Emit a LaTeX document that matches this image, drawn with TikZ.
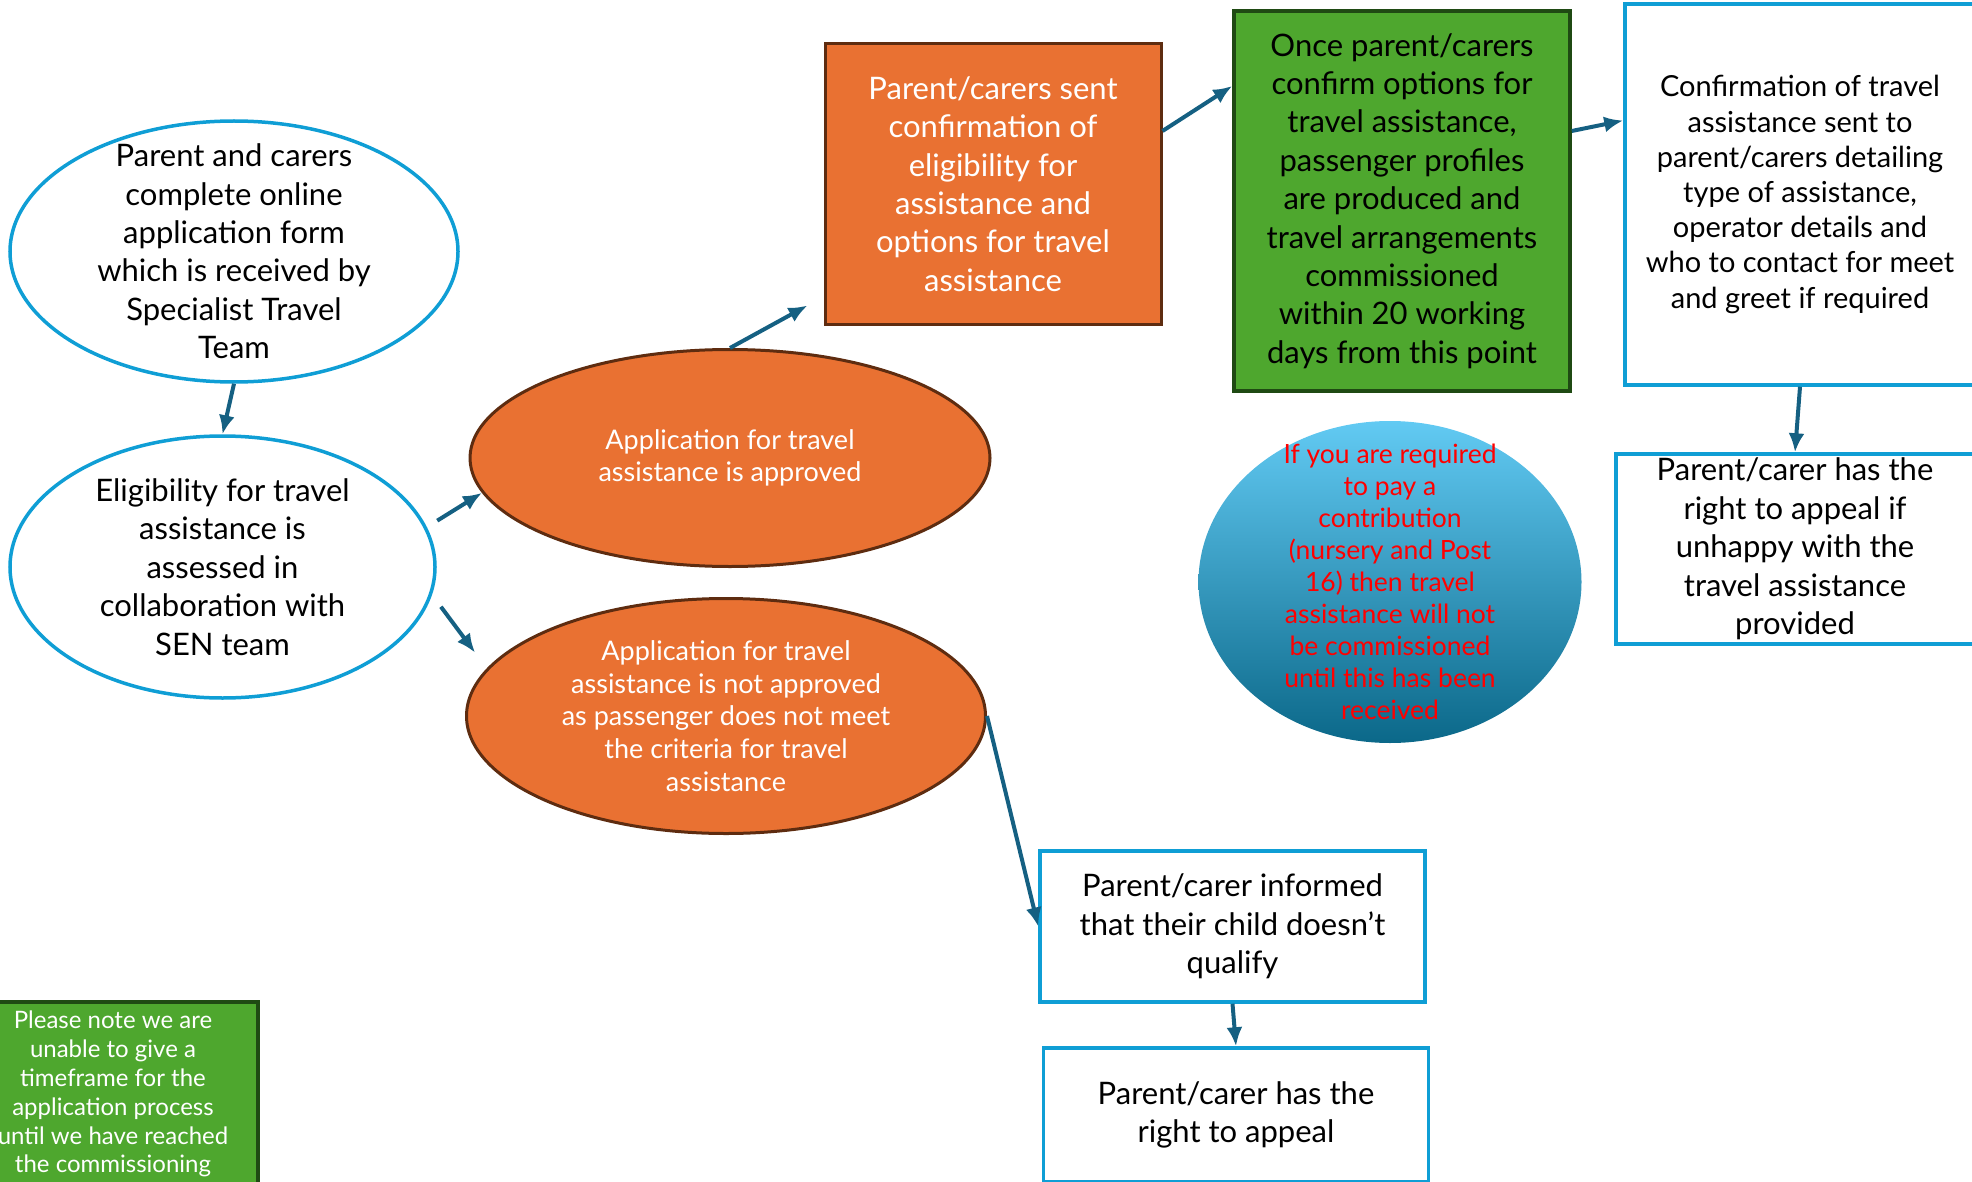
\documentclass[tikz,border=0pt]{standalone}
\usepackage{fontspec}
\setmainfont{Lato}
\usetikzlibrary{shapes.geometric,arrows.meta,positioning}
\definecolor{accblue}{HTML}{0F9ED5}
\definecolor{accorange}{HTML}{E97132}
\definecolor{accbrown}{HTML}{5E2C10}
\definecolor{accgreen}{HTML}{4EA72E}
\definecolor{accdkgreen}{HTML}{1F4A13}
\definecolor{flowcol}{HTML}{156082}
\definecolor{skytop}{HTML}{62CAF3}
\definecolor{skymid}{HTML}{0EA1DB}
\definecolor{skybot}{HTML}{0B6889}
\newcommand{\bigtxt}{\fontsize{31}{38.4}\selectfont}
\newcommand{\midtxt}{\fontsize{29}{35.2}\selectfont}
\newcommand{\ovaltxt}{\fontsize{27}{32.7}\selectfont}
\newcommand{\redtxt}{\fontsize{26.5}{32}\selectfont}
\newcommand{\notetxt}{\fontsize{24}{28.9}\selectfont}
\tikzset{>={Latex[length=19pt,width=16pt]}}
\tikzstyle{flow}=[->,draw=flowcol,line width=4pt]
\tikzstyle{blueoval}=[ellipse,draw=accblue,line width=3.5pt,fill=white]
\tikzstyle{orangeoval}=[ellipse,draw=accbrown,line width=3pt,fill=accorange]
\tikzstyle{ovaltext}=[align=center,inner sep=0pt]
\tikzstyle{bluebox}=[rectangle,draw=accblue,line width=3.5pt,fill=white,align=center,inner sep=0pt,font=\bigtxt]
\tikzstyle{orangebox}=[rectangle,draw=accbrown,line width=3pt,fill=accorange,align=center,inner sep=0pt,font=\bigtxt,text=white]
\tikzstyle{greenbox}=[rectangle,draw=accdkgreen,line width=3.5pt,fill=accgreen,align=center,inner sep=0pt]

\begin{document}
\begin{tikzpicture}[x=1pt,y=-1pt]
  \useasboundingbox (0,0) rectangle (1972,1182);
  % ovals on the left
  \node[blueoval,minimum width=448,minimum height=261] (apply) at (234,251.5) {};
  \node[ovaltext,font=\bigtxt] (applytxt) at (apply) {Parent and carers\\complete online\\application form\\which is received by\\Specialist Travel\\Team};
  \node[blueoval,minimum width=425,minimum height=262] (elig) at (222.5,567) {};
  \node[ovaltext,font=\bigtxt] (eligtxt) at (elig) {Eligibility for travel\\assistance is\\assessed in\\collaboration with\\SEN team};
  \node[orangeoval,minimum width=520,minimum height=217] (appr) at (730,458) {};
  \node[ovaltext,font=\ovaltxt,text=white] (apprtxt) at (appr) {Application for travel\\assistance is approved};
  \node[orangeoval,minimum width=519,minimum height=235] (notappr) at (726,716) {};
  \node[ovaltext,font=\ovaltxt,text=white] (notapprtxt) at (notappr) {Application for travel\\assistance is not approved\\as passenger does not meet\\the criteria for travel\\assistance};
  % boxes along the top
  \node[orangebox,minimum width=336,minimum height=280] (sent) at (993,184) {Parent/carers sent\\confirmation of\\eligibility for\\assistance and\\options for travel\\assistance};
  \node[greenbox,font=\bigtxt,minimum width=336,minimum height=380] (once) at (1402,201) {Once parent/carers\\confirm options for\\travel assistance,\\passenger profiles\\are produced and\\travel arrangements\\commissioned\\within 20 working\\days from this point};
  \node[bluebox,font=\midtxt,minimum width=350,minimum height=381] (confirm) at (1800,194.5) {Confirmation of travel\\assistance sent to\\parent/carers detailing\\type of assistance,\\operator details and\\who to contact for meet\\and greet if required};
  \node[bluebox,minimum width=358,minimum height=190] (appealif) at (1795,549) {Parent/carer has the\\right to appeal if\\unhappy with the\\travel assistance\\provided};
  % contribution note
  \node[ellipse,minimum width=383,minimum height=322,top color=skytop,middle color=skymid,bottom color=skybot] (contrib) at (1390,582) {};
  \node[ovaltext,font=\redtxt,text=red] (contribtxt) at (contrib) {If you are required\\to pay a\\contribution\\(nursery and Post\\16) then travel\\assistance will not\\be commissioned\\until this has been\\received};
  % not approved branch
  \node[bluebox,minimum width=385,minimum height=151] (informed) at (1232.5,926.5) {Parent/carer informed\\that their child doesn’t\\qualify};
  \node[bluebox,minimum width=385,minimum height=134] (appeal) at (1236,1115) {Parent/carer has the\\right to appeal};
  \node[greenbox,font=\notetxt,text=white,minimum width=290,minimum height=184] (note) at (113,1094) {Please note we are\\unable to give a\\timeframe for the\\application process\\until we have reached\\the commissioning};

  \draw[flow] (apply.south) -- (elig.north);
  \draw[flow] ([xshift=14pt]elig.13) -- (appr.188);
  \draw[flow] ([xshift=14pt]elig.-11) -- ([xshift=-30pt]notappr.164);
  \draw[flow] (appr.north) -- ([xshift=-16pt,yshift=20pt]sent.south west);
  \draw[flow] ([yshift=53pt]sent.east) -- ([yshift=115pt]once.west);
  \draw[flow] ([yshift=70pt]once.east) -- ([yshift=74pt]confirm.west);
  \draw[flow] (confirm.south) -- (appealif.north);
  \draw[flow] (notappr.east) -- (informed.west);
  \draw[flow] (informed.south) -- (appeal.north);
\end{tikzpicture}
\end{document}
